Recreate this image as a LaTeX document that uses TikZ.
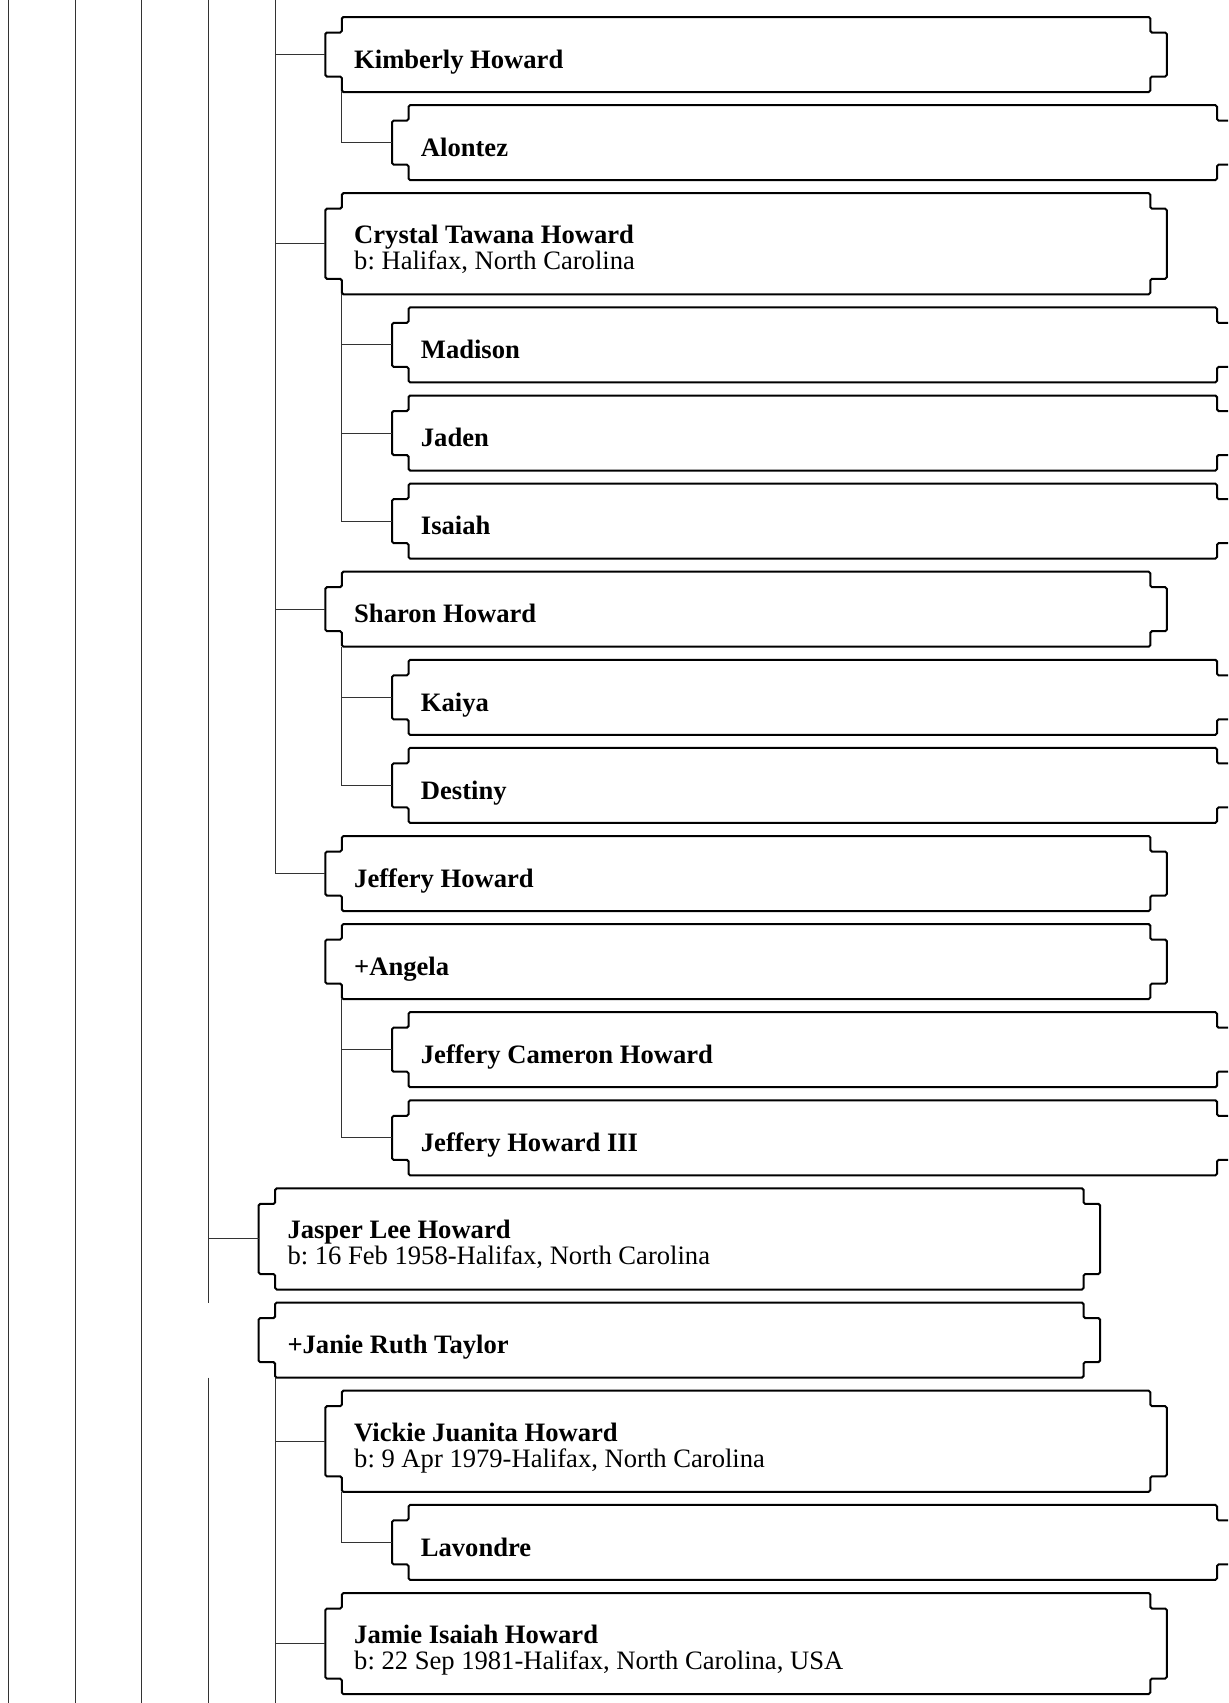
\documentclass[tikz,border=0pt]{standalone}
\usepackage{fontspec}
\setmainfont{Liberation Serif}
\frenchspacing
\def\La{137.55pt}
\def\Lb{170.9pt}
\def\Lc{204.25pt}
\def\NW{8.25pt}
\def\NI{7.75pt}
\tikzset{
  fbox/.style={inner sep=0pt, outer sep=0pt, minimum width=404.25pt, anchor=north west},
  nametext/.style={anchor=base west, inner sep=0pt, font=\fontsize{13.3pt}{13pt}\selectfont\bfseries},
  birthtext/.style={anchor=base west, inner sep=0pt, font=\fontsize{13.3pt}{13pt}\selectfont},
  boxline/.style={draw=black, line width=1pt, rounded corners=0.8pt},
  conn/.style={draw=black!80, line width=0.5pt},
}
\newcommand{\famoutline}[1]{%
  \draw[boxline] (#1.north west) -- ([yshift=-\NI]#1.north west)
    -- ([xshift=-\NW,yshift=-\NI]#1.north west) -- ([xshift=-\NW,yshift=\NI]#1.south west)
    -- ([yshift=\NI]#1.south west) -- (#1.south west) -- (#1.south east)
    -- ([yshift=\NI]#1.south east) -- ([xshift=\NW,yshift=\NI]#1.south east)
    -- ([xshift=\NW,yshift=-\NI]#1.north east) -- ([yshift=-\NI]#1.north east)
    -- (#1.north east) -- cycle;}
\newcommand{\famperson}[4]{%
  \node[fbox, minimum height=37.5pt] (#1) at (#2,-#3pt) {};
  \famoutline{#1}
  \node[nametext] (#1-n) at ([xshift=6pt,yshift=-25.6pt]#1.north west) {#4};}
\newcommand{\fampersonb}[5]{%
  \node[fbox, minimum height=50.55pt] (#1) at (#2,-#3pt) {};
  \famoutline{#1}
  \node[nametext] (#1-n) at ([xshift=6pt,yshift=-25.2pt]#1.north west) {#4};
  \node[birthtext] (#1-b) at ([xshift=6pt,yshift=-38.2pt]#1.north west) {#5};}
\begin{document}
\begin{tikzpicture}
\useasboundingbox (0,0) rectangle (614pt,-851.5pt);
\clip (0,0) rectangle (614pt,-851.5pt);
% persons
\famperson{kim}{\Lb}{8.5}{Kimberly Howard}
\famperson{alo}{\Lc}{52.55}{Alontez}
\fampersonb{cry}{\Lb}{96.6}{Crystal Tawana Howard}{b: Halifax, North Carolina}
\famperson{mad}{\Lc}{153.7}{Madison}
\famperson{jad}{\Lc}{197.75}{Jaden}
\famperson{isa}{\Lc}{241.8}{Isaiah}
\famperson{sha}{\Lb}{285.85}{Sharon Howard}
\famperson{kai}{\Lc}{329.9}{Kaiya}
\famperson{des}{\Lc}{373.95}{Destiny}
\famperson{jef}{\Lb}{418.0}{Jeffery Howard}
\famperson{ang}{\Lb}{462.05}{+Angela}
\famperson{jch}{\Lc}{506.1}{Jeffery Cameron Howard}
\famperson{jth}{\Lc}{550.15}{Jeffery Howard III}
\fampersonb{jas}{\La}{594.2}{Jasper Lee Howard}{b: 16 Feb 1958-Halifax, North Carolina}
\famperson{jan}{\La}{651.3}{+Janie Ruth Taylor}
\fampersonb{vic}{\Lb}{695.35}{Vickie Juanita Howard}{b: 9 Apr 1979-Halifax, North Carolina}
\famperson{lav}{\Lc}{752.45}{Lavondre}
\fampersonb{jam}{\Lb}{796.5}{Jamie Isaiah Howard}{b: 22 Sep 1981-Halifax, North Carolina, USA}
% trunk coordinates
\coordinate (t1) at (4.15pt,0pt);   \coordinate (b1) at (4.15pt,-851.5pt);
\coordinate (t2) at (37.5pt,0pt);   \coordinate (b2) at (37.5pt,-851.5pt);
\coordinate (t3) at (70.85pt,0pt);  \coordinate (b3) at (70.85pt,-851.5pt);
\coordinate (t4) at (104.2pt,0pt);  \coordinate (b4) at (104.2pt,-851.5pt);
\coordinate (t5) at (\La,0pt);      \coordinate (b5) at (\La,-851.5pt);
\draw[conn] (t1) -- (b1);
\draw[conn] (t2) -- (b2);
\draw[conn] (t3) -- (b3);
\draw[conn] (t4) -- (t4 |- jan.north);
\draw[conn] (t4 |- jan.south) -- (b4);
\draw[conn] (t4 |- jas.west) -- ([xshift=-\NW]jas.west);
% level 1 branch from above
\draw[conn] (t5) |- ([xshift=-\NW]jef.west);
\draw[conn] (t5 |- kim.west) -- ([xshift=-\NW]kim.west);
\draw[conn] (t5 |- cry.west) -- ([xshift=-\NW]cry.west);
\draw[conn] (t5 |- sha.west) -- ([xshift=-\NW]sha.west);
% Janie's children
\draw[conn] (jan.south west) -- (b5);
\draw[conn] (jan.south west |- vic.west) -- ([xshift=-\NW]vic.west);
\draw[conn] (jan.south west |- jam.west) -- ([xshift=-\NW]jam.west);
% grandchildren
\draw[conn] (kim.south west) |- ([xshift=-\NW]alo.west);
\draw[conn] (cry.south west) |- ([xshift=-\NW]isa.west);
\draw[conn] (cry.south west |- mad.west) -- ([xshift=-\NW]mad.west);
\draw[conn] (cry.south west |- jad.west) -- ([xshift=-\NW]jad.west);
\draw[conn] (sha.south west) |- ([xshift=-\NW]des.west);
\draw[conn] (sha.south west |- kai.west) -- ([xshift=-\NW]kai.west);
\draw[conn] (ang.south west) |- ([xshift=-\NW]jth.west);
\draw[conn] (ang.south west |- jch.west) -- ([xshift=-\NW]jch.west);
\draw[conn] (vic.south west) |- ([xshift=-\NW]lav.west);
\end{tikzpicture}
\end{document}
